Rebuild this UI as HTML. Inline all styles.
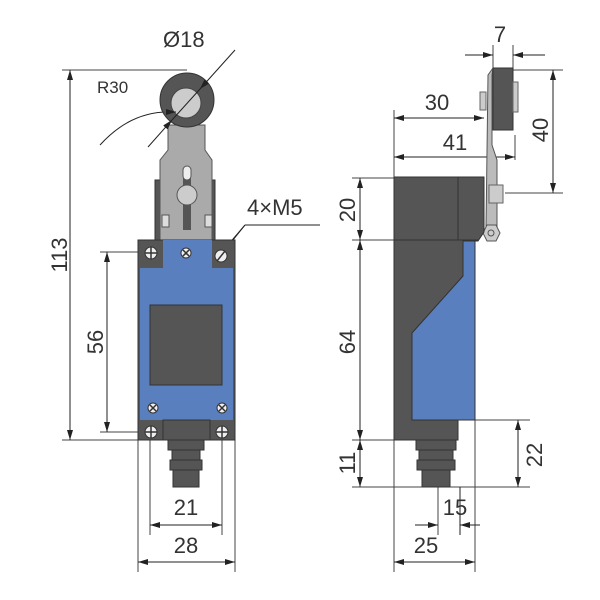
<!DOCTYPE html>
<html><head><meta charset="utf-8"><style>body{margin:0;background:#fff}svg{display:block}text{font-family:"Liberation Sans",sans-serif;fill:#333;font-size:22px}</style></head>
<body>
<svg width="600" height="600" viewBox="0 0 600 600" xmlns="http://www.w3.org/2000/svg">
<defs><marker id="a" viewBox="0 0 10 6" refX="10" refY="3" markerWidth="10" markerHeight="6" orient="auto-start-reverse" markerUnits="userSpaceOnUse"><path d="M0,0L10,3L0,6z" fill="#222"/></marker></defs>
<g stroke="#444" stroke-width="1" fill="none">
<line x1="62" y1="70" x2="187" y2="70"/><line x1="62" y1="440" x2="140" y2="440"/>
<line x1="100" y1="252" x2="150" y2="252"/><line x1="100" y1="432" x2="150" y2="432"/>
<line x1="150" y1="432" x2="150" y2="535"/><line x1="222" y1="432" x2="222" y2="535"/>
<line x1="138" y1="440" x2="138" y2="572"/><line x1="235" y1="440" x2="235" y2="572"/>
<line x1="394" y1="178" x2="394" y2="572"/><line x1="475" y1="420" x2="475" y2="572"/>
<line x1="352" y1="178" x2="394" y2="178"/><line x1="352" y1="240" x2="394" y2="240"/>
<line x1="352" y1="440" x2="394" y2="440"/><line x1="352" y1="487" x2="530" y2="487"/>
<line x1="475" y1="420" x2="530" y2="420"/><line x1="438" y1="487" x2="438" y2="535"/>
<line x1="394" y1="110" x2="394" y2="178"/>
<line x1="493" y1="45" x2="493" y2="70"/><line x1="513" y1="45" x2="513" y2="70"/>
<line x1="513" y1="70" x2="563" y2="70"/><line x1="505" y1="193" x2="563" y2="193"/>
<line x1="515" y1="135" x2="515" y2="160"/>
</g>
<g stroke="#222" stroke-width="1" fill="none">
<line x1="70" y1="70" x2="70" y2="440" marker-start="url(#a)" marker-end="url(#a)"/>
<line x1="107" y1="252" x2="107" y2="432" marker-start="url(#a)" marker-end="url(#a)"/>
<line x1="150" y1="525" x2="222" y2="525" marker-start="url(#a)" marker-end="url(#a)"/>
<line x1="138" y1="562" x2="235" y2="562" marker-start="url(#a)" marker-end="url(#a)"/>
<line x1="394" y1="562" x2="475" y2="562" marker-start="url(#a)" marker-end="url(#a)"/>
<line x1="394" y1="118" x2="484" y2="118" marker-start="url(#a)" marker-end="url(#a)"/>
<line x1="394" y1="157" x2="515" y2="157" marker-start="url(#a)" marker-end="url(#a)"/>
<line x1="360" y1="178" x2="360" y2="240" marker-start="url(#a)" marker-end="url(#a)"/>
<line x1="360" y1="240" x2="360" y2="440" marker-start="url(#a)" marker-end="url(#a)"/>
<line x1="360" y1="440" x2="360" y2="487" marker-start="url(#a)" marker-end="url(#a)"/>
<line x1="518" y1="420" x2="518" y2="487" marker-start="url(#a)" marker-end="url(#a)"/>
<line x1="553" y1="70" x2="553" y2="193" marker-start="url(#a)" marker-end="url(#a)"/>
<line x1="415" y1="525" x2="438" y2="525" marker-end="url(#a)"/>
<line x1="480" y1="525" x2="460" y2="525" marker-end="url(#a)"/>
<line x1="460" y1="487" x2="460" y2="535"/>
<line x1="465" y1="55" x2="493" y2="55" marker-end="url(#a)"/>
<line x1="545" y1="55" x2="513" y2="55" marker-end="url(#a)"/>
<path d="M100,145 Q130,112 168,112"/>
<line x1="320" y1="225" x2="245" y2="225"/><line x1="245" y1="225" x2="205" y2="275"/>
<line x1="245" y1="225" x2="222" y2="252" marker-end="url(#a)"/>
</g>
<!-- front lever -->
<rect x="155" y="180" width="60" height="60" fill="#555" stroke="#333"/>
<path d="M168,125 L205,125 L205,150 L212,160 L212,240 L160,240 L160,160 L168,150Z" fill="#aaa" stroke="#555"/>
<rect x="162" y="215" width="7" height="12" fill="#ddd" stroke="#555"/><rect x="205" y="215" width="7" height="12" fill="#ddd" stroke="#555"/>
<rect x="183" y="170" width="8" height="60" fill="#555"/>
<rect x="183" y="166" width="8" height="14" rx="4" fill="#eee" stroke="#555"/>
<circle cx="187" cy="195" r="10" fill="#ccc" stroke="#555"/>
<circle cx="187" cy="100" r="27" fill="#555" stroke="#333"/>
<circle cx="186" cy="103" r="15" fill="#ccc" stroke="#444"/>
<g stroke="#222" stroke-width="1" fill="none">
<line x1="235" y1="50" x2="200" y2="89" marker-end="url(#a)"/>
<line x1="200" y1="89" x2="172" y2="120"/>
<line x1="148" y1="147" x2="172" y2="120" marker-end="url(#a)"/>
<path d="M168,112 L176,112" marker-end="url(#a)"/>
</g>
<!-- front body -->
<rect x="138" y="240" width="97" height="200" fill="#555" stroke="#333"/>
<rect x="163" y="240" width="49" height="30" fill="#5a7fbf"/>
<rect x="140" y="268" width="93" height="152" fill="#5a7fbf"/>
<rect x="150" y="305" width="72" height="80" fill="#555" stroke="#333"/>
<rect x="163" y="420" width="47" height="20" fill="#555" stroke="#333"/>
<g fill="#555" stroke="#333"><rect x="168" y="440" width="36" height="10"/><rect x="172" y="450" width="28" height="10"/><rect x="170" y="460" width="32" height="10"/><rect x="173" y="470" width="26" height="17"/></g>
<g fill="#eee" stroke="#333"><circle cx="151" cy="253" r="6"/><circle cx="221" cy="256" r="6"/><circle cx="151" cy="432" r="6"/><circle cx="222" cy="432" r="6"/><circle cx="186" cy="253" r="5"/><circle cx="153" cy="408" r="5"/><circle cx="222" cy="408" r="5"/></g>
<g stroke="#333" stroke-width="1.5"><path d="M145,253h12M151,247v12M145,432h12M151,426v12M216,432h12M222,426v12M217,261l8,-10M183,250l6,6M189,250l-6,6M150,405l6,6M156,405l-6,6M219,405l6,6M225,405l-6,6"/></g>
<!-- side view -->
<path d="M493,68 L488,75 L486,228 L497,228 L497,160 L492,145 L492,75Z" fill="#bbb" stroke="#555"/>
<rect x="480" y="92" width="6" height="18" fill="#ccc" stroke="#666"/>
<rect x="493" y="68" width="20" height="62" fill="#555" stroke="#333"/>
<rect x="513" y="82" width="5" height="30" fill="#ccc" stroke="#666"/>
<rect x="489" y="185" width="14" height="18" fill="#ccc" stroke="#666"/>
<polygon points="487,225 496,225 500,233 496,241 487,241 483,233" fill="#ccc" stroke="#555"/>
<circle cx="491" cy="233" r="3" fill="none" stroke="#555"/>
<path d="M394,177 L484,177 L484,232 L478,241 L475,241 L475,420 L458,420 L458,440 L394,440Z" fill="#555" stroke="#333"/>
<line x1="458" y1="177" x2="458" y2="240" stroke="#333"/><line x1="394" y1="240" x2="478" y2="240" stroke="#333"/>
<polygon points="463,241 475,241 475,420 412,420 412,333 463,276" fill="#5a7fbf" stroke="#333"/>
<g fill="#555" stroke="#333"><rect x="416" y="440" width="40" height="10"/><rect x="419" y="450" width="34" height="10"/><rect x="417" y="460" width="38" height="10"/><rect x="422" y="470" width="28" height="17"/></g>
<text x="163" y="47">Ø18</text>
<text x="97" y="93" style="font-size:17px">R30</text>
<text x="247" y="215">4×M5</text>
<text x="437" y="110" text-anchor="middle">30</text>
<text x="455" y="150" text-anchor="middle">41</text>
<text x="500" y="42" text-anchor="middle">7</text>
<text x="186" y="515" text-anchor="middle">21</text>
<text x="186" y="553" text-anchor="middle">28</text>
<text x="426" y="553" text-anchor="middle">25</text>
<text x="455" y="515" text-anchor="middle">15</text>
<text transform="translate(67,255) rotate(-90)" text-anchor="middle">113</text>
<text transform="translate(103,342) rotate(-90)" text-anchor="middle">56</text>
<text transform="translate(355,210) rotate(-90)" text-anchor="middle">20</text>
<text transform="translate(355,342) rotate(-90)" text-anchor="middle">64</text>
<text transform="translate(355,463) rotate(-90)" text-anchor="middle">11</text>
<text transform="translate(542,455) rotate(-90)" text-anchor="middle">22</text>
<text transform="translate(548,130) rotate(-90)" text-anchor="middle">40</text>
</svg>
</body></html>
